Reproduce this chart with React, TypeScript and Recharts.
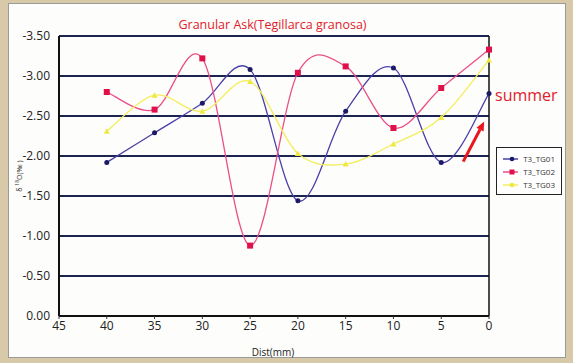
import { CartesianGrid, Line, LineChart, ReferenceLine, XAxis, YAxis } from "recharts";

const dist = [40, 35, 30, 25, 20, 15, 10, 5, 0];
const tg01 = [-1.92, -2.29, -2.66, -3.08, -1.44, -2.56, -3.1, -1.92, -2.78];
const tg02 = [-2.8, -2.58, -3.22, -0.88, -3.04, -3.12, -2.35, -2.85, -3.33];
const tg03 = [-2.31, -2.76, -2.56, -2.93, -2.03, -1.9, -2.15, -2.48, -3.2];

const xTicks = [45, 40, 35, 30, 25, 20, 15, 10, 5, 0];
const yTicks = [-3.5, -3, -2.5, -2, -1.5, -1, -0.5, 0];

const arrowFrom = { x: 2.7, y: -1.93 };
const arrowTo = { x: 0.5, y: -2.43 };

const data = dist.map((d, i) => ({ dist: d, tg01: tg01[i], tg02: tg02[i], tg03: tg03[i] }));

const series = [
  { key: "tg01", name: "T3_TG01", color: "#4a40a8", dot: "#1a1a66", shape: "circle" },
  { key: "tg02", name: "T3_TG02", color: "#ea4f8a", dot: "#e0104a", shape: "square" },
  { key: "tg03", name: "T3_TG03", color: "#f4ee5c", dot: "#f0e840", shape: "triangle" }
];

const font = "'Open Sans', 'DejaVu Sans', sans-serif";

// Excel-like smoothed line (Catmull-Rom through the points)
const smoothCurve = (context: any) => {
  let pts: number[][] = [];
  return {
    areaStart() {},
    areaEnd() {},
    lineStart() {
      pts = [];
    },
    point(x: number, y: number) {
      pts.push([+x, +y]);
    },
    lineEnd() {
      if (!pts.length) return;
      context.moveTo(pts[0][0], pts[0][1]);
      for (let i = 0; i < pts.length - 1; i++) {
        const p0 = pts[i - 1] || pts[i];
        const p1 = pts[i];
        const p2 = pts[i + 1];
        const p3 = pts[i + 2] || p2;
        context.bezierCurveTo(
          p1[0] + (p2[0] - p0[0]) / 6,
          p1[1] + (p2[1] - p0[1]) / 6,
          p2[0] - (p3[0] - p1[0]) / 6,
          p2[1] - (p3[1] - p1[1]) / 6,
          p2[0],
          p2[1]
        );
      }
    }
  };
};

const makeDot = (shape: string, fill: string) => (props: any) => {
  const { cx, cy, index } = props;
  if (cx == null || cy == null) return <g key={index} />;
  if (shape === "square") return <rect key={index} x={cx - 3} y={cy - 3} width={6} height={6} fill={fill} />;
  if (shape === "triangle")
    return <polygon key={index} points={`${cx},${cy - 3} ${cx - 3},${cy + 2.5} ${cx + 3},${cy + 2.5}`} fill={fill} />;
  return <circle key={index} cx={cx} cy={cy} r={2.5} fill={fill} />;
};

const Arrow = (props: any) => {
  const { x1, y1, x2, y2 } = props;
  if (x1 == null) return null;
  const ang = Math.atan2(y2 - y1, x2 - x1);
  const len = 9;
  const w = 4;
  const bx = x2 - len * Math.cos(ang);
  const by = y2 - len * Math.sin(ang);
  const px = -Math.sin(ang) * w;
  const py = Math.cos(ang) * w;
  return (
    <g>
      <line x1={x1} y1={y1} x2={bx} y2={by} stroke="#e8181e" strokeWidth={3} />
      <polygon points={`${x2},${y2} ${bx + px},${by + py} ${bx - px},${by - py}`} fill="#e8181e" />
    </g>
  );
};

const LegendBox = () => (
  <div
    style={{
      border: "1.5px solid #222",
      padding: "4px 6px 3px 6px",
      background: "#fff",
      fontFamily: font,
      fontSize: 8,
      color: "#333",
      width: 52
    }}
  >
    {series.map((s) => (
      <div key={s.key} style={{ display: "flex", alignItems: "center", height: 13 }}>
        <svg width={18} height={8}>
          <line x1={0} y1={4} x2={18} y2={4} stroke={s.color} strokeWidth={1.5} />
          {s.shape === "square" ? (
            <rect x={6.5} y={1.5} width={5} height={5} fill={s.dot} />
          ) : (
            <circle cx={9} cy={4} r={2.3} fill={s.dot} />
          )}
        </svg>
        <span style={{ marginLeft: 5 }}>{s.name}</span>
      </div>
    ))}
  </div>
);

export default function App() {
  return (
    <div style={{ position: "absolute", left: 0, top: 0, width: 573, height: 363, background: "#d8c9a8" }}>
      <div
        style={{
          position: "absolute",
          left: 8,
          top: 3,
          width: 556,
          height: 353,
          background: "#fdfdfb",
          border: "1px solid #9a9a9a"
        }}
      />
      <div
        style={{
          position: "absolute",
          left: 0,
          width: 545,
          top: 16,
          textAlign: "center",
          color: "#e0202a",
          fontFamily: font,
          fontSize: 12.5
        }}
      >
        Granular Ask(Tegillarca granosa)
      </div>
      <div style={{ position: "absolute", left: 495, top: 84, color: "#e0202a", fontFamily: font, fontSize: 16 }}>
        summer
      </div>
      <div
        style={{
          position: "absolute",
          left: 273 - 30,
          width: 60,
          top: 345,
          textAlign: "center",
          fontFamily: font,
          fontSize: 10,
          color: "#222"
        }}
      >
        Dist(mm)
      </div>
      <div
        style={{
          position: "absolute",
          left: 19,
          top: 176,
          transform: "translate(-50%, -50%) rotate(-90deg)",
          fontFamily: font,
          fontSize: 7,
          color: "#333",
          whiteSpace: "nowrap"
        }}
      >
        δ <sup style={{ fontSize: 5 }}>18</sup>O(‰ )
      </div>
      <div style={{ position: "absolute", left: 0, top: 0 }}>
        <LineChart width={573} height={363} data={data} margin={{ top: 36, right: 84, bottom: 0, left: 0 }}>
          <CartesianGrid horizontal vertical={false} stroke="#1c2450" strokeWidth={2} />
          <XAxis
            dataKey="dist"
            type="number"
            domain={[0, 45]}
            reversed
            ticks={xTicks}
            interval={0}
            height={47}
            axisLine={{ stroke: "#111", strokeWidth: 2 }}
            tickLine={{ stroke: "#333" }}
            tickSize={3}
            tick={{ fill: "#222", fontSize: 12, fontFamily: font }}
          />
          <YAxis
            type="number"
            domain={[-3.5, 0]}
            reversed
            ticks={yTicks}
            interval={0}
            width={59}
            axisLine={{ stroke: "#111", strokeWidth: 2 }}
            tickLine={false}
            tickMargin={3}
            tickFormatter={(v: number) => v.toFixed(2)}
            tick={{ fill: "#222", fontSize: 12, fontFamily: font }}
          />
          <ReferenceLine x={0} stroke="#111" strokeWidth={1.5} />
          <ReferenceLine segment={[arrowFrom, arrowTo]} ifOverflow="visible" shape={Arrow} />
          {series.map((s) => (
            <Line
              key={s.key}
              dataKey={s.key}
              name={s.name}
              type={smoothCurve as any}
              stroke={s.color}
              strokeWidth={1.3}
              dot={makeDot(s.shape, s.dot)}
              activeDot={false}
              isAnimationActive={false}
            />
          ))}
        </LineChart>
      </div>
      <div style={{ position: "absolute", left: 496, top: 147 }}>
        <LegendBox />
      </div>
    </div>
  );
}
